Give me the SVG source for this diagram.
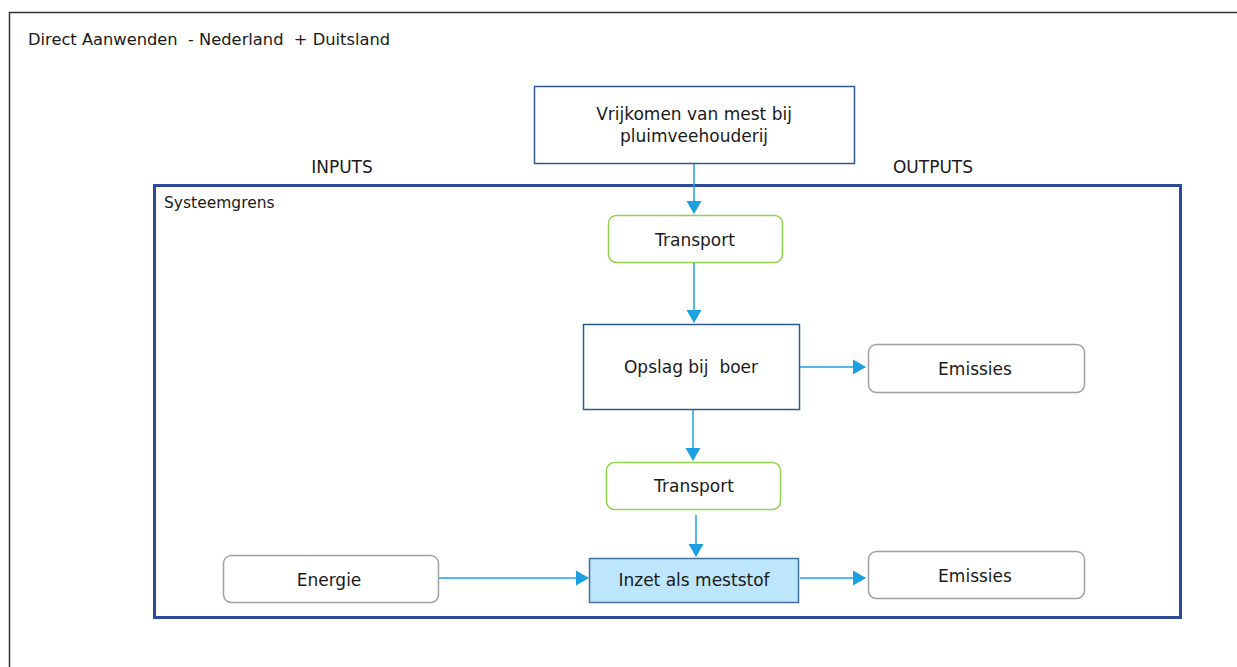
<svg xmlns="http://www.w3.org/2000/svg" width="1237" height="667" viewBox="0 0 1237 667">
<style>
text{font-family:"DejaVu Sans","Liberation Sans",sans-serif;font-size:17px;fill:#1a1a1a;white-space:pre}
.c{text-anchor:middle;dominant-baseline:central}
.grey{fill:#fff;stroke:#a0a0a0;stroke-width:1.5}
.green{fill:#fff;stroke:#92d050;stroke-width:1.5}
.blue{fill:#fff;stroke:#2f5a8f;stroke-width:1.5}
.conn{stroke:#1ba1e2;stroke-width:1.5;fill:none;marker-end:url(#ah)}
</style>
<defs>
<marker id="ah" markerWidth="14" markerHeight="16" refX="12" refY="8" orient="auto" markerUnits="userSpaceOnUse">
<path d="M0,0.5 L13,8 L0,15.5 Z" fill="#1ba1e2"/>
</marker>
</defs>
<rect width="1237" height="667" fill="#fff"/>
<g id="frame">
<path d="M9.5,667 V12.5 H1237" fill="none" stroke="#333" stroke-width="1.5"/>
<text x="28" y="39" dominant-baseline="central" xml:space="preserve" style="font-size:16.3px">Direct Aanwenden  - Nederland  + Duitsland</text>
</g>
<g id="labels">
<text class="c" x="342" y="167">INPUTS</text>
<text class="c" x="933" y="167">OUTPUTS</text>
</g>
<g id="systeemgrens">
<rect x="154.5" y="185.5" width="1026" height="432" fill="none" stroke="#2e4a9a" stroke-width="3"/>
<text x="164" y="203" dominant-baseline="central" style="font-size:15.5px">Systeemgrens</text>
</g>
<g id="connectors">
<line class="conn" x1="694" y1="163" x2="694" y2="213"/>
<line class="conn" x1="694" y1="263" x2="694" y2="322"/>
<line class="conn" x1="693" y1="410" x2="693" y2="460"/>
<line class="conn" x1="696" y1="515" x2="696" y2="556"/>
<line class="conn" x1="800" y1="367" x2="865" y2="367"/>
<line class="conn" x1="800" y1="578" x2="865" y2="578"/>
<line class="conn" x1="439" y1="578" x2="588" y2="578"/>
</g>
<g id="vrijkomen">
<rect class="blue" x="534.5" y="86.5" width="320" height="77"/>
<text class="c" x="694" y="114">Vrijkomen van mest bij</text>
<text class="c" x="694" y="136">pluimveehouderij</text>
</g>
<g id="transport1">
<rect class="green" x="608.5" y="215.5" width="174" height="47" rx="8"/>
<text class="c" x="695" y="240">Transport</text>
</g>
<g id="opslag">
<rect class="blue" x="583.5" y="324.5" width="216" height="85"/>
<text class="c" x="691" y="367" xml:space="preserve">Opslag bij  boer</text>
</g>
<g id="emissies1">
<rect class="grey" x="868.5" y="344.5" width="216" height="48" rx="8"/>
<text class="c" x="975" y="369">Emissies</text>
</g>
<g id="transport2">
<rect class="green" x="606.5" y="462.5" width="174" height="47" rx="8"/>
<text class="c" x="694" y="486">Transport</text>
</g>
<g id="energie">
<rect class="grey" x="223.5" y="555.5" width="215" height="47" rx="8"/>
<text class="c" x="329" y="580">Energie</text>
</g>
<g id="inzet">
<rect x="589.5" y="558.5" width="209" height="44" fill="#bde5fb" stroke="#41719c" stroke-width="1.5"/>
<text class="c" x="694" y="580">Inzet als meststof</text>
</g>
<g id="emissies2">
<rect class="grey" x="868.5" y="551.5" width="216" height="47" rx="8"/>
<text class="c" x="975" y="576">Emissies</text>
</g>
</svg>
